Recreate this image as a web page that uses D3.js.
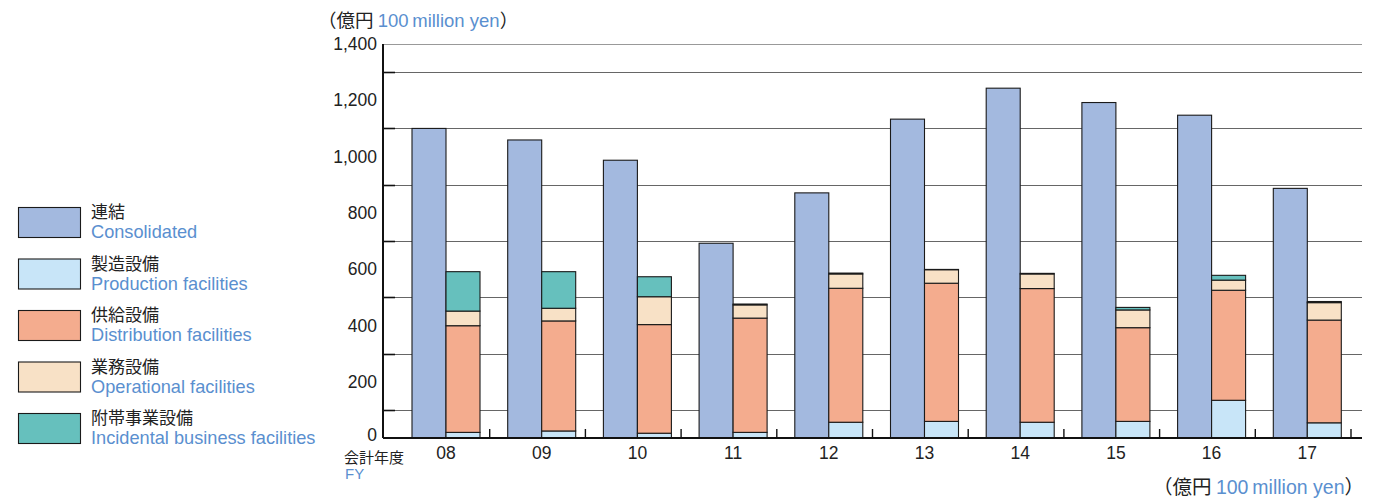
<!DOCTYPE html>
<html>
<head>
<meta charset="utf-8">
<script src="https://cdn.jsdelivr.net/npm/d3@7"></script>
<style>
  html, body { margin: 0; padding: 0; background: #fff; }
  svg { display: block; font-family: "Liberation Sans", Arial, "Noto Sans CJK JP", sans-serif; }
  .jp { font-family: "Noto Sans CJK JP", "Liberation Sans", sans-serif; }
</style>
</head>
<body>
<svg id="chart" width="1375" height="500"></svg>
<script>
// ---- data ----
const years = ["08", "09", "10", "11", "12", "13", "14", "15", "16", "17"];
const consolidated = [1100, 1059, 987, 692, 871, 1133, 1243, 1192, 1147, 887];
const production   = [20, 25, 17, 20, 56, 59, 56, 59, 134, 54];
const distribution = [379, 391, 386, 406, 476, 491, 475, 333, 391, 365];
const operational  = [52, 45, 99, 47, 51, 48, 52, 63, 36, 62];
const incidental   = [140, 130, 71, 3, 3, 1, 2, 9, 17, 4];
const yLabelValues = [0, 200, 400, 600, 800, 1000, 1200, 1400];
const yGridValues  = [100, 300, 500, 700, 900, 1100, 1300, 1400];
const seriesKeys   = ["production", "distribution", "operational", "incidental"];
const legendJa = ["連結", "製造設備", "供給設備", "業務設備", "附帯事業設備"];
const legendEn = ["Consolidated", "Production facilities", "Distribution facilities", "Operational facilities", "Incidental business facilities"];

// ---- styles ----
const colors = {
  consolidated: "#A3B9DF",
  production: "#C8E5F8",
  distribution: "#F4AC8E",
  operational: "#F8E1C6",
  incidental: "#66C0BD"
};
const blue = "#5A8FCF";

const svg = d3.select("#chart");

const y = d3.scaleLinear().domain([0, 1400]).range([438, 44]);
const x0 = d3.scaleBand().domain(years).range([394, 1351]).padding(0);
const x1 = d3.scaleBand().domain(["c", "s"]).range([18, 86]).padding(0);

const plotLeft = 383, plotRight = 1362;

// gridlines
svg.append("g").selectAll("line").data(yGridValues).join("line")
  .attr("x1", plotLeft).attr("x2", plotRight)
  .attr("y1", d => Math.round(y(d)) + 0.5).attr("y2", d => Math.round(y(d)) + 0.5)
  .attr("stroke", d => d === 1400 ? "#999" : "#666").attr("stroke-width", 1);

// short ticks on y axis at gridlines
svg.append("g").selectAll("line").data(yGridValues.filter(d => d !== 1400)).join("line")
  .attr("x1", plotLeft).attr("x2", plotLeft + 12)
  .attr("y1", d => Math.round(y(d)) + 0.5).attr("y2", d => Math.round(y(d)) + 0.5)
  .attr("stroke", "#111").attr("stroke-width", 1.6);

// y axis labels via d3 axis
const yAxis = d3.axisLeft(y).tickValues(yLabelValues).tickSize(0).tickPadding(0)
  .tickFormat(d3.format(","));
const yg = svg.append("g").attr("transform", `translate(${plotLeft - 6},0)`).call(yAxis);
yg.select(".domain").remove();
yg.selectAll("text").attr("font-size", 17.5).attr("fill", "#222")
  .attr("font-family", "'Liberation Sans', Arial, sans-serif");
yg.selectAll("text").filter(d => d === 0).attr("dy", "0.12em");

// y axis line
svg.append("line").attr("x1", plotLeft).attr("x2", plotLeft)
  .attr("y1", y(1400)).attr("y2", y(0)).attr("stroke", "#111").attr("stroke-width", 2);

// consolidated bars
const bars = years.map((yr, i) => ({
  year: yr, consolidated: consolidated[i], production: production[i],
  distribution: distribution[i], operational: operational[i], incidental: incidental[i]
}));

svg.append("g").selectAll("rect").data(bars).join("rect")
  .attr("x", d => x0(d.year) + x1("c"))
  .attr("y", d => y(d.consolidated))
  .attr("width", x1.bandwidth())
  .attr("height", d => y(0) - y(d.consolidated))
  .attr("fill", colors.consolidated)
  .attr("stroke", "#1a1a1a").attr("stroke-width", 1.1);

// stacked bars
const stack = d3.stack().keys(seriesKeys)(bars);
svg.append("g").selectAll("g").data(stack).join("g")
  .attr("fill", d => colors[d.key])
  .selectAll("rect").data(d => d).join("rect")
  .attr("x", d => x0(d.data.year) + x1("s"))
  .attr("y", d => y(d[1]))
  .attr("width", x1.bandwidth())
  .attr("height", d => y(d[0]) - y(d[1]))
  .attr("stroke", "#1a1a1a").attr("stroke-width", 1.1);

// x axis line
svg.append("line").attr("x1", plotLeft).attr("x2", plotRight)
  .attr("y1", y(0)).attr("y2", y(0)).attr("stroke", "#111").attr("stroke-width", 2);

// x ticks at band ends
svg.append("g").selectAll("line").data(years).join("line")
  .attr("x1", d => x0(d) + x0.bandwidth()).attr("x2", d => x0(d) + x0.bandwidth())
  .attr("y1", y(0)).attr("y2", y(0) - 9)
  .attr("stroke", "#111").attr("stroke-width", 1.4);

// x labels
svg.append("g").selectAll("text").data(years).join("text")
  .attr("x", d => x0(d) + x1("s"))
  .attr("y", 459)
  .attr("text-anchor", "middle")
  .attr("font-size", 17.5).attr("fill", "#222")
  .text(d => d);

// FY labels
svg.append("text").attr("class", "jp").attr("x", 344).attr("y", 463)
  .attr("font-size", 15).attr("fill", "#222").text("会計年度");
svg.append("text").attr("x", 345).attr("y", 479)
  .attr("font-size", 15).attr("fill", blue).text("FY");

// unit labels
function unitLabel(xPos, yPos, anchor, size) {
  const t = svg.append("text").attr("x", xPos).attr("y", yPos).attr("font-size", size)
    .attr("text-anchor", anchor);
  t.append("tspan").attr("class", "jp").attr("fill", "#222").text("（億円 ");
  t.append("tspan").attr("fill", blue).text("100\u2009million yen");
  t.append("tspan").attr("class", "jp").attr("fill", "#222").text("）");
  return t;
}
unitLabel(318, 27, "start", 18.5);
unitLabel(1364, 494, "end", 19.5);

// legend
const legendKeys = ["consolidated", "production", "distribution", "operational", "incidental"];
const lg = svg.append("g").selectAll("g").data(legendKeys).join("g")
  .attr("transform", (d, i) => `translate(18,${207 + i * 51.5})`);
lg.append("rect").attr("x", 0.5).attr("y", 0.5).attr("width", 62).attr("height", 30)
  .attr("fill", d => colors[d]).attr("stroke", "#1a1a1a").attr("stroke-width", 1.1);
lg.append("text").attr("class", "jp").attr("x", 73).attr("y", 11)
  .attr("font-size", 17).attr("fill", "#222").text((d, i) => legendJa[i]);
lg.append("text").attr("x", 73).attr("y", 31)
  .attr("font-size", 18.2).attr("fill", blue).text((d, i) => legendEn[i]);
</script>
</body>
</html>
